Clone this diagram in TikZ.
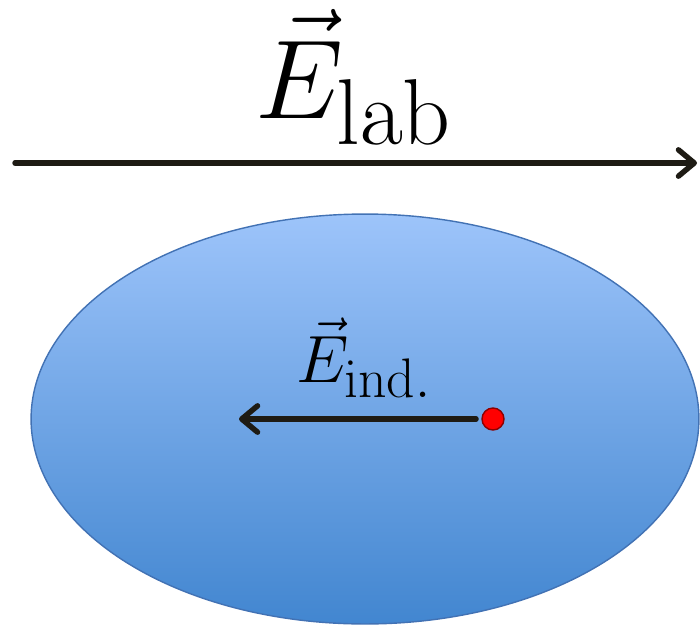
\documentclass[tikz,border=0pt]{standalone}
\usetikzlibrary{arrows.meta, shapes.geometric}
\definecolor{bloblight}{RGB}{157,196,250}
\definecolor{blobdark}{RGB}{66,134,208}
\definecolor{blobedge}{RGB}{66,114,180}
\definecolor{arrowink}{RGB}{30,27,20}

\begin{document}
\begin{tikzpicture}[
  x=0.02cm, y=-0.02cm,
  field/.style={draw=arrowink, line width=3.1pt, line cap=round, -{Straight Barb[length=9pt, width=15pt, line cap=round, line join=round]}},
  region/.style={ellipse, draw=blobedge, line width=0.8pt, top color=bloblight, bottom color=blobdark, minimum width=13.36cm, minimum height=8.2cm, inner sep=0pt},
  charge/.style={circle, draw=red!55!black, fill=red, line width=0.8pt, minimum size=0.44cm, inner sep=0pt},
  biglabel/.style={font=\Huge, scale=2.57, transform shape, inner sep=0pt, anchor=base},
  smalllabel/.style={font=\Huge, scale=1.53, transform shape, inner sep=0pt, anchor=base}
]
\useasboundingbox (0,0) rectangle (700,626);

% Campo externo
\coordinate (labstart) at (15,163);
\coordinate (labend) at (697,163);
\draw[field] (labstart) -- (labend);
\node[biglabel] (elab) at (354,118) {$\vec{E}_{\mathrm{lab}}$};

% Region y campo inducido
\node[region] (blob) at (365,419) {};
\node[smalllabel] (eind) at (364,382) {$\vec{E}_{\mathrm{ind.}}$};
\node[charge] (dot) at (493,419) {};
\coordinate (indtip) at (239,419);
\draw[field, shorten <=3pt] (dot) -- (indtip);

\end{tikzpicture}
\end{document}
